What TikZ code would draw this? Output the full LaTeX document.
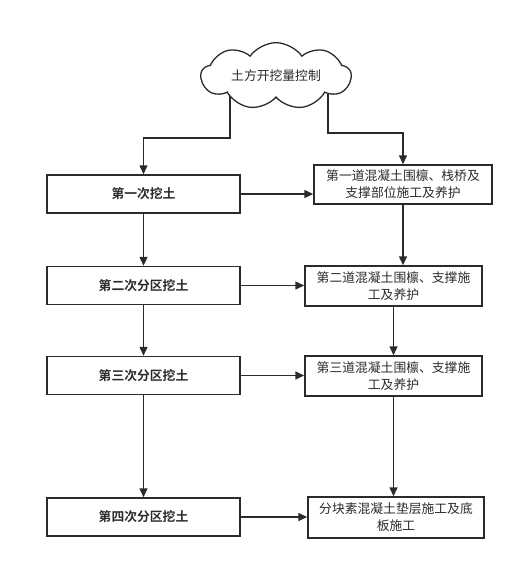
\documentclass[tikz,border=0pt]{standalone}
\usepackage{fontspec}
\newfontfamily\cjk[BoldFont={Noto Sans CJK SC Bold}]{Noto Sans CJK SC}
\usetikzlibrary{arrows.meta,shapes.symbols,backgrounds}
\definecolor{ink}{HTML}{2B2B2B}
\tikzset{
  arr/.style={draw=ink,line width=1.5pt,-{Triangle[length=9pt,width=8pt]}},
  digbox/.style={draw=ink,line width=1.5pt,minimum width=193pt,minimum height=38pt,font=\cjk\bfseries\fontsize{12.8}{16}\selectfont,text=ink},
  workbox/.style={draw=ink,line width=1.5pt,minimum width=177pt,minimum height=40pt,align=center,inner sep=1pt,font=\cjk\fontsize{12.8}{17}\selectfont,text=ink}
}
\begin{document}
\begin{tikzpicture}[x=1pt,y=-1pt]
  \useasboundingbox (0,0) rectangle (523,570);
  \node[cloud,cloud puffs=9,cloud puff arc=110,aspect=2.7,draw=ink,line width=1.3pt,fill=white,
        minimum width=150pt,minimum height=56pt,inner sep=0pt,font=\cjk\fontsize{12.8}{16}\selectfont,text=ink]
        (cloud) at (276,76) {土方开挖量控制};
  % excavation steps
  \node[digbox] (b1) at (143.5,194) {第一次挖土};
  \node[digbox] (b2) at (143.5,285.5) {第二次分区挖土};
  \node[digbox] (b3) at (143.5,375.5) {第三次分区挖土};
  \node[digbox] (b4) at (143.5,517) {第四次分区挖土};
  % support works
  \node[workbox,minimum width=178pt,minimum height=39pt] (r1) at (403,184.5) {第一道混凝土围檩、栈桥及\\支撑部位施工及养护};
  \node[workbox] (r2) at (393.5,286) {第二道混凝土围檩、支撑施\\工及养护};
  \node[workbox] (r3) at (393.5,376) {第三道混凝土围檩、支撑施\\工及养护};
  \node[workbox,minimum width=176pt,minimum height=41pt] (r4) at (396,517.5) {分块素混凝土垫层施工及底\\板施工};
  \begin{scope}[on background layer]
    \draw[arr] ([xshift=-46pt]cloud.center) -- ++(0,62) -| (b1.north);
    \draw[arr] ([xshift=52pt]cloud.center) -- ++(0,57) -| (r1.north);
  \end{scope}
  \draw[arr] (b1.south) -- (b2.north);
  \draw[arr] (b2.south) -- (b3.north);
  \draw[arr] (b3.south) -- (b4.north);
  \draw[arr] (b1.east) -- (b1.east -| r1.west);
  \draw[arr] (b2.east) -- (b2.east -| r2.west);
  \draw[arr] (b3.east) -- (b3.east -| r3.west);
  \draw[arr] (b4.east) -- (b4.east -| r4.west);
  \draw[arr] (r1.south) -- (r1.south |- r2.north);
  \draw[arr] (r2.south) -- (r3.north);
  \draw[arr] (r3.south) -- (r3.south |- r4.north);
\end{tikzpicture}
\end{document}
